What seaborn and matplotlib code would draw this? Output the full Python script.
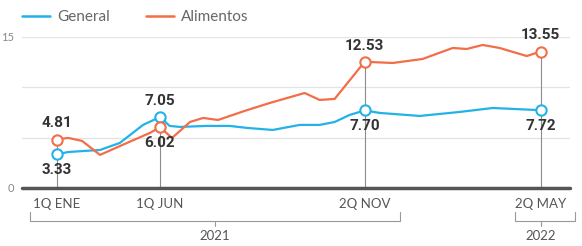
import pandas as pd
import numpy as np
import matplotlib.pyplot as plt
import seaborn as sns

# Time position (0 = 1Q ENE 2021, 100 = 2Q MAY 2022) and values
general_t = [0, 2.3, 8.9, 13.0, 17.8, 21.3, 23.3, 25.4, 31.0, 35.7, 39.3, 44.6,
             50.2, 54.3, 57.4, 60.5, 63.6, 66.7, 75.0, 83.3, 90.1, 100]
general_v = [3.33, 3.57, 3.77, 4.47, 6.26, 7.05, 6.16, 6.06, 6.16, 6.16, 5.96, 5.76,
             6.26, 6.26, 6.55, 7.25, 7.70, 7.45, 7.15, 7.55, 7.94, 7.72]

alimentos_t = [0, 2.3, 5.2, 8.9, 14.0, 19.2, 21.3, 23.8, 27.5, 30.2, 33.3, 38.8,
               44.0, 51.2, 54.3, 57.4, 63.6, 69.4, 75.6, 81.8, 84.7, 88.0, 91.5, 97.1, 100]
alimentos_v = [4.81, 4.97, 4.67, 3.28, 4.37, 5.46, 6.02, 4.97, 6.55, 6.95, 6.75, 7.65,
               8.44, 9.43, 8.74, 8.84, 12.53, 12.41, 12.81, 13.90, 13.80, 14.20, 13.90, 13.10, 13.55]

# highlighted periods
key_t = [0, 21.3, 63.6, 100]
key_labels = ['1Q ENE', '1Q JUN', '2Q NOV', '2Q MAY']
key_general = [3.33, 7.05, 7.70, 7.72]
key_alimentos = [4.81, 6.02, 12.53, 13.55]

years = ['2021', '2022']
year_spans = [(-5.6, 70.9, 32.6), (94.6, 107.0, 100)]

blue = '#22b2e9'
orange = '#f36d48'

df = pd.concat([
    pd.DataFrame({'t': general_t, 'valor': general_v, 'serie': 'General'}),
    pd.DataFrame({'t': alimentos_t, 'valor': alimentos_v, 'serie': 'Alimentos'}),
])

sns.set_style('white')
plt.rcParams['font.family'] = ['Lato', 'DejaVu Sans']

fig = plt.figure(figsize=(5.82, 2.46), dpi=100)
ax = fig.add_axes([0.038, 0.236, 0.941, 0.614])

sns.lineplot(data=df, x='t', y='valor', hue='serie', palette={'General': blue, 'Alimentos': orange},
             linewidth=1.6, ax=ax, legend=False, zorder=3)

ax.set_xlim(-7.2, 106)
ax.set_ylim(0, 15)
ax.set_xlabel('')
ax.set_ylabel('')
for y in [5, 10, 15]:
    ax.axhline(y, color='#e3e3e3', lw=0.9, zorder=0)
ax.axhline(0, color='#555555', lw=2.5, zorder=4, clip_on=False)

# vertical guide lines + markers
for t, g, a in zip(key_t, key_general, key_alimentos):
    ax.plot([t, t], [0, max(g, a)], color='#8c8c8c', lw=0.8, zorder=2)
ax.scatter(key_t, key_general, s=55, facecolor='white', edgecolor=blue, linewidth=1.5, zorder=5)
ax.scatter(key_t, key_alimentos, s=55, facecolor='white', edgecolor=orange, linewidth=1.5, zorder=5)

num_font = dict(family=['Roboto', 'DejaVu Sans'], fontweight='bold',
                fontsize=11, color='#333333', ha='center')
for t, g, a in zip(key_t, key_general, key_alimentos):
    hi, lo = max(g, a), min(g, a)
    ax.text(t, hi + 0.9, f'{hi:.2f}', va='bottom', **num_font)
    ax.text(t, lo - 0.9, f'{lo:.2f}', va='top', **num_font)

ax.set_yticks([0, 15])
ax.set_yticklabels(['0', '15'], fontsize=8, color='#888888')
ax.tick_params(axis='y', length=0, pad=6)
ax.set_xticks(key_t)
ax.set_xticklabels(key_labels, fontsize=9.5, color='#555555')
ax.tick_params(axis='x', length=0, pad=7)
sns.despine(ax=ax, left=True, bottom=True)

# year brackets below the axis
tr = ax.get_xaxis_transform()
for year, (x0, x1, xc) in zip(years, year_spans):
    ax.plot([x0, x0, x1, x1], [-0.16, -0.22, -0.22, -0.16], color='#999999', lw=0.8,
            transform=tr, clip_on=False)
    ax.plot([xc, xc], [-0.22, -0.25], color='#999999', lw=0.8, transform=tr, clip_on=False)
    ax.text(xc, -0.28, year, transform=tr, ha='center', va='top', fontsize=9.5, color='#555555')

# legend
handles = [plt.Line2D([], [], color=blue, lw=1.8), plt.Line2D([], [], color=orange, lw=1.8)]
fig.legend(handles, ['General', 'Alimentos'], loc='center left', bbox_to_anchor=(0.015, 0.93),
           ncol=2, frameon=False, fontsize=11, handlelength=1.8, handletextpad=0.45,
           columnspacing=2.4, labelcolor='#666666')

fig.savefig('out.png', dpi=100)
